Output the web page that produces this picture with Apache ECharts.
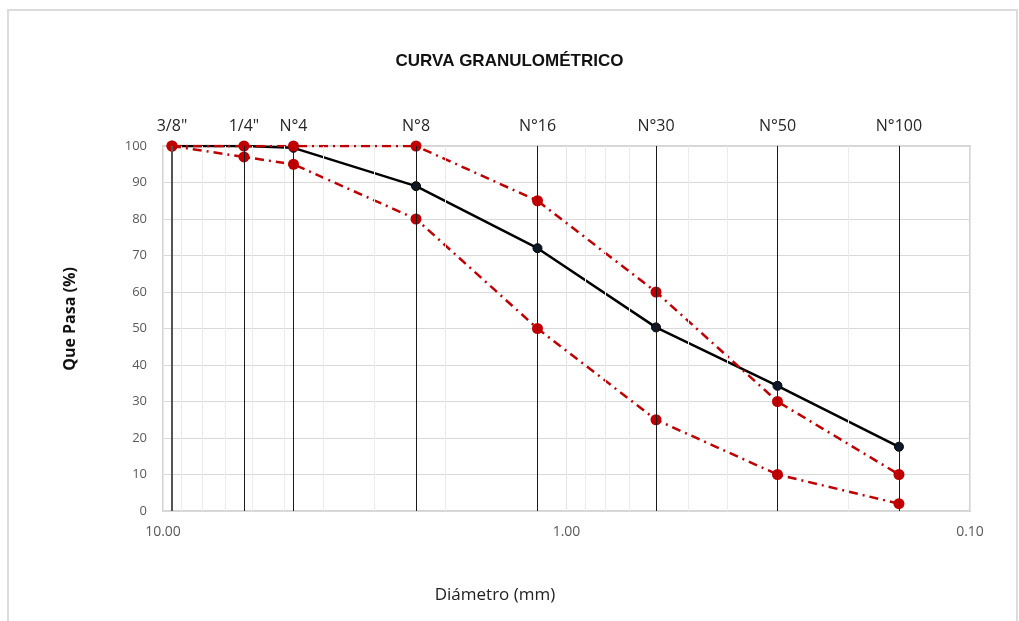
<!DOCTYPE html>
<html>
<head>
<meta charset="utf-8">
<script src="https://cdn.jsdelivr.net/npm/echarts@6/dist/echarts.min.js"></script>
<style>
  html, body { margin: 0; padding: 0; background: #fff; }
  #chart { width: 1019px; height: 621px; }
</style>
</head>
<body>
<div id="chart"></div>
<script>
// sieve openings (mm) and their names
const sieveSizes = [9.5, 6.3, 4.75, 2.36, 1.18, 0.6, 0.3, 0.15];
const sieveNames = ['3/8"', '1/4"', 'N°4', 'N°8', 'N°16', 'N°30', 'N°50', 'N°100'];
// % passing
const passing = [100, 100, 99.5, 89, 72, 50.3, 34.3, 17.6];
const upperLimit = [100, 100, 100, 100, 85, 60, 30, 10];
const lowerLimit = [100, 97, 95, 80, 50, 25, 10, 2];
// minor log grid positions
const minorGrid = [9, 8, 7, 6, 5, 4, 3, 2, 0.9, 0.8, 0.7, 0.6, 0.5, 0.4, 0.3, 0.2];

const pairs = (ys) => sieveSizes.map((x, i) => [x, ys[i]]);
const dashDot = [9, 5, 2, 5];
const font = '"Open Sans", "Noto Sans", sans-serif';

const chart = echarts.init(document.getElementById('chart'));
chart.setOption({
  animation: false,
  backgroundColor: '#fff',
  graphic: [
    {
      type: 'rect',
      shape: { x: 8, y: 10, width: 1009, height: 700 },
      style: { fill: 'none', stroke: '#dcdcdc', lineWidth: 2 },
      silent: true
    },
    {
      // x axis title, centred on the whole chart like the reference
      type: 'text',
      x: 495, y: 595,
      style: {
        text: 'Diámetro (mm)', fontFamily: font, fontSize: 17, fill: '#222',
        textAlign: 'center', textVerticalAlign: 'middle'
      },
      silent: true
    },
    {
      type: 'text',
      x: 70, y: 319,
      rotation: Math.PI / 2,
      style: {
        text: 'Que Pasa (%)', fontFamily: font, fontSize: 16, fontWeight: 'bold', fill: '#111',
        textAlign: 'center', textVerticalAlign: 'middle'
      },
      silent: true
    }
  ],
  title: {
    text: 'CURVA GRANULOMÉTRICO',
    left: 'center',
    top: 48,
    textStyle: { fontFamily: '"Liberation Sans", sans-serif', fontSize: 17, fontWeight: 'bold', color: '#111' }
  },
  grid: {
    left: 163, right: 49, top: 146, bottom: 110,
    show: true, borderColor: '#d4d4d4', borderWidth: 2
  },
  xAxis: {
    type: 'log',
    logBase: 10,
    min: 0.1,
    max: 10,
    inverse: true,
    axisLine: { show: false },
    axisTick: { show: false },
    axisLabel: {
      formatter: (v) => v.toFixed(2),
      fontFamily: font, fontSize: 14, color: '#595959', margin: 14
    },
    splitLine: { show: true, lineStyle: { color: '#e6e6e6', width: 1 } }
  },
  yAxis: {
    type: 'value',
    min: 0,
    max: 100,
    interval: 10,
    axisLine: { show: false },
    axisTick: { show: false },
    axisLabel: { fontFamily: font, fontSize: 13, color: '#595959', margin: 16 },
    splitLine: { lineStyle: { color: '#d9d9d9', width: 1 } }
  },
  series: [
    {
      // faint minor log grid
      type: 'line',
      data: [],
      z: 1,
      silent: true,
      markLine: {
        silent: true,
        symbol: 'none',
        label: { show: false },
        lineStyle: { color: '#ececec', width: 1, type: 'solid' },
        data: minorGrid.map((v) => ({ xAxis: v }))
      }
    },
    {
      // sieve lines with top labels
      type: 'line',
      data: [],
      z: 2,
      silent: true,
      markLine: {
        silent: true,
        symbol: 'none',
        lineStyle: { color: '#1a1a1a', width: 1, type: 'solid' },
        label: {
          show: true,
          position: 'end',
          distance: 12,
          fontFamily: font,
          fontSize: 16,
          color: '#262626'
        },
        data: sieveSizes.map((v, i) => ({
          xAxis: v,
          label: { formatter: sieveNames[i] },
          lineStyle: i === 0 ? { color: '#555', width: 2 } : {}
        }))
      }
    },
    {
      name: 'Muestra',
      type: 'line',
      z: 3,
      data: pairs(passing),
      symbol: 'circle',
      symbolSize: 9,
      lineStyle: { color: '#000', width: 2.5 },
      itemStyle: { color: '#0e1a2b', borderColor: '#000', borderWidth: 1 }
    },
    {
      name: 'Límite superior',
      type: 'line',
      z: 4,
      data: pairs(upperLimit),
      symbol: 'circle',
      symbolSize: 11,
      lineStyle: { color: '#c00000', width: 2.5, type: dashDot },
      itemStyle: { color: '#c00000' }
    },
    {
      name: 'Límite inferior',
      type: 'line',
      z: 4,
      data: pairs(lowerLimit),
      symbol: 'circle',
      symbolSize: 11,
      lineStyle: { color: '#c00000', width: 2.5, type: dashDot },
      itemStyle: { color: '#c00000' }
    }
  ]
});
</script>
</body>
</html>
